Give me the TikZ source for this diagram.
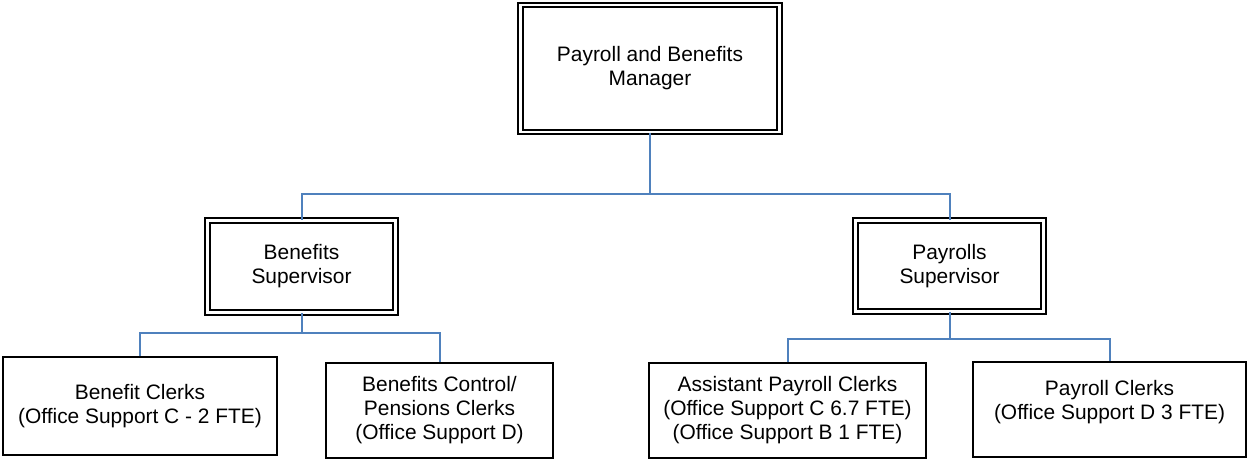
\documentclass[tikz,border=0pt]{standalone}
\usepackage{fontspec}
\setmainfont{Liberation Sans}
\begin{document}
\begin{tikzpicture}[x=1bp,y=-1bp,
  every node/.style={font=\fontsize{21}{24}\selectfont, align=center, inner sep=0pt},
  headbox/.style={draw=black, line width=1.7bp, double=white, double distance=2.8bp, rectangle},
  clerkbox/.style={draw=black, line width=1.4bp, rectangle},
  link/.style={draw=linkblue, line width=2bp}
]
\definecolor{linkblue}{HTML}{4F81BD}
\useasboundingbox (0,0) rectangle (1249,459);

% manager
\node[headbox, minimum width=259bp, minimum height=127bp] (mgr) at (650,68.5)
  {Payroll and Benefits\\Manager};

% supervisors
\node[headbox, minimum width=188bp, minimum height=92bp] (bsup) at (301.5,266.5)
  {Benefits\\Supervisor};
\node[headbox, minimum width=188bp, minimum height=91bp] (psup) at (949.5,266)
  {Payrolls\\Supervisor};

% clerk groups
\node[clerkbox, minimum width=274bp, minimum height=98bp] (bclk) at (140,406)
  {Benefit Clerks\\(Office Support C - 2 FTE)};
\node[clerkbox, minimum width=227bp, minimum height=95bp] (pens) at (439.5,410.5)
  {Benefits Control/\\Pensions Clerks\\(Office Support D)};
\node[clerkbox, minimum width=277bp, minimum height=95bp] (apcl) at (787.5,410.5)
  {Assistant Payroll Clerks\\(Office Support C 6.7 FTE)\\(Office Support B 1 FTE)};
\node[clerkbox, minimum width=273bp, minimum height=95bp,
  label={[yshift=7bp, align=center]center:Payroll Clerks\\(Office Support D 3 FTE)}] (pclk) at (1109.5,409.5) {};

% reporting lines
\draw[link] (mgr.south) -- (650,194) coordinate (hub);
\draw[link] (bsup.north) |- (hub) -| (psup.north);
\draw[link] (bsup.south) -- (301.5,333) coordinate (bhub);
\draw[link] (bclk.north) |- (bhub) -| (pens.north);
\draw[link] (psup.south) -- (949.5,339) coordinate (phub);
\draw[link] (apcl.north) |- (phub) -| (pclk.north);
\end{tikzpicture}
\end{document}
